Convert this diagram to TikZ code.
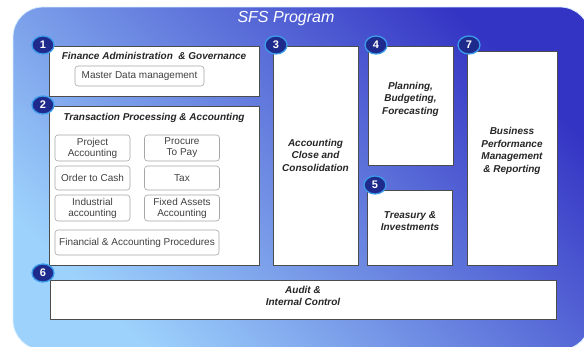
\documentclass[tikz,border=0pt]{standalone}
\usepackage{fontspec}
\setmainfont{Liberation Sans}
\usetikzlibrary{shapes.geometric}

\definecolor{sfsdark}{HTML}{3434C4}
\definecolor{sfslight}{HTML}{9DD2FC}
\definecolor{badgefill}{HTML}{1E2A8C}
\definecolor{badgeedge}{HTML}{3C9CEB}

\begin{document}
\begin{tikzpicture}[
    x=1pt, y=-1pt,
    panel/.style={draw=black!70, fill=white, line width=0.7pt, inner sep=0pt},
    item/.style={draw=gray!70, fill=white, rounded corners=3pt, line width=0.6pt, align=center, inner sep=0pt, minimum width=75pt, text=black!75, font=\fontsize{10}{11}\selectfont},
    heading/.style={align=center, text=black!85, font=\bfseries\itshape\fontsize{10}{12.5}\selectfont},
    badge/.style={ellipse, fill=badgefill, draw=badgeedge, line width=1.3pt, minimum width=22pt, minimum height=18pt, inner sep=0pt, text=white, font=\bfseries\fontsize{11}{11}\selectfont}
]

    % --- Frame ---
    \clip (0,0) rectangle (584,346);
    \shade[top color=sfsdark, bottom color=sfslight, shading angle=-45, rounded corners=30pt]
        (13,7) rectangle (590,350);
    \draw[white!60!sfslight, line width=0.8pt, rounded corners=30pt] (13,7) rectangle (590,350);
    \node[text=white, font=\itshape\fontsize{16}{16}\selectfont] (title) at (286,19) {SFS Program};

    % --- Panels ---
    \node[panel, minimum width=210pt, minimum height=50pt] (finance) at (154,71) {};
    \node[panel, minimum width=210pt, minimum height=159pt] (trans) at (154,185.5) {};
    \node[panel, minimum width=85pt, minimum height=219pt] (close) at (315.5,155.5) {};
    \node[panel, minimum width=85pt, minimum height=119pt] (plan) at (410.5,105.5) {};
    \node[panel, minimum width=85pt, minimum height=75pt] (treasury) at (410,227.5) {};
    \node[panel, minimum width=90pt, minimum height=214pt] (bpm) at (512,158) {};
    \node[panel, minimum width=506pt, minimum height=39pt] (audit) at (303,299.5) {};

    % --- Panel texts ---
    \node[heading] (financeT) at (154,56) {Finance Administration\ \ \& Governance};
    \node[heading] (transT) at (154,118) {Transaction Processing \& Accounting};
    \node[heading] (closeT) at (315.5,155) {Accounting\\Close and\\Consolidation};
    \node[heading] (planT) at (410.5,99) {Planning,\\Budgeting,\\Forecasting};
    \node[heading] (treasuryT) at (410,221) {Treasury \&\\Investments};
    \node[heading] (bpmT) at (512,151) {Business\\Performance\\Management\\\& Reporting};
    \node[heading] (auditT) at (303,296) {Audit \&\\Internal Control};

    % --- Items ---
    \node[item, minimum width=129pt, minimum height=20pt] (mdm) at (139.5,76) {Master Data management};
    \node[item, minimum height=26pt] (project) at (92.5,148) {Project\\Accounting};
    \node[item, minimum height=26pt] (procure) at (182,148) {Procure\\To Pay};
    \node[item, minimum height=24pt] (otc) at (92.5,178) {Order to Cash};
    \node[item, minimum height=24pt] (tax) at (182,178) {Tax};
    \node[item, minimum height=26pt] (industrial) at (92.5,208) {Industrial\\accounting};
    \node[item, minimum height=26pt] (fixed) at (182,208) {Fixed Assets\\Accounting};
    \node[item, minimum width=164pt, minimum height=25pt] (proc) at (137,242.5) {Financial \& Accounting Procedures};

    % --- Badges ---
    \node[badge] (b1) at (43,45) {1};
    \node[badge] (b2) at (43,105) {2};
    \node[badge] (b3) at (276,45) {3};
    \node[badge] (b4) at (376,45) {4};
    \node[badge] (b5) at (375,185) {5};
    \node[badge] (b6) at (43,273) {6};
    \node[badge] (b7) at (469,45) {7};

\end{tikzpicture}
\end{document}
